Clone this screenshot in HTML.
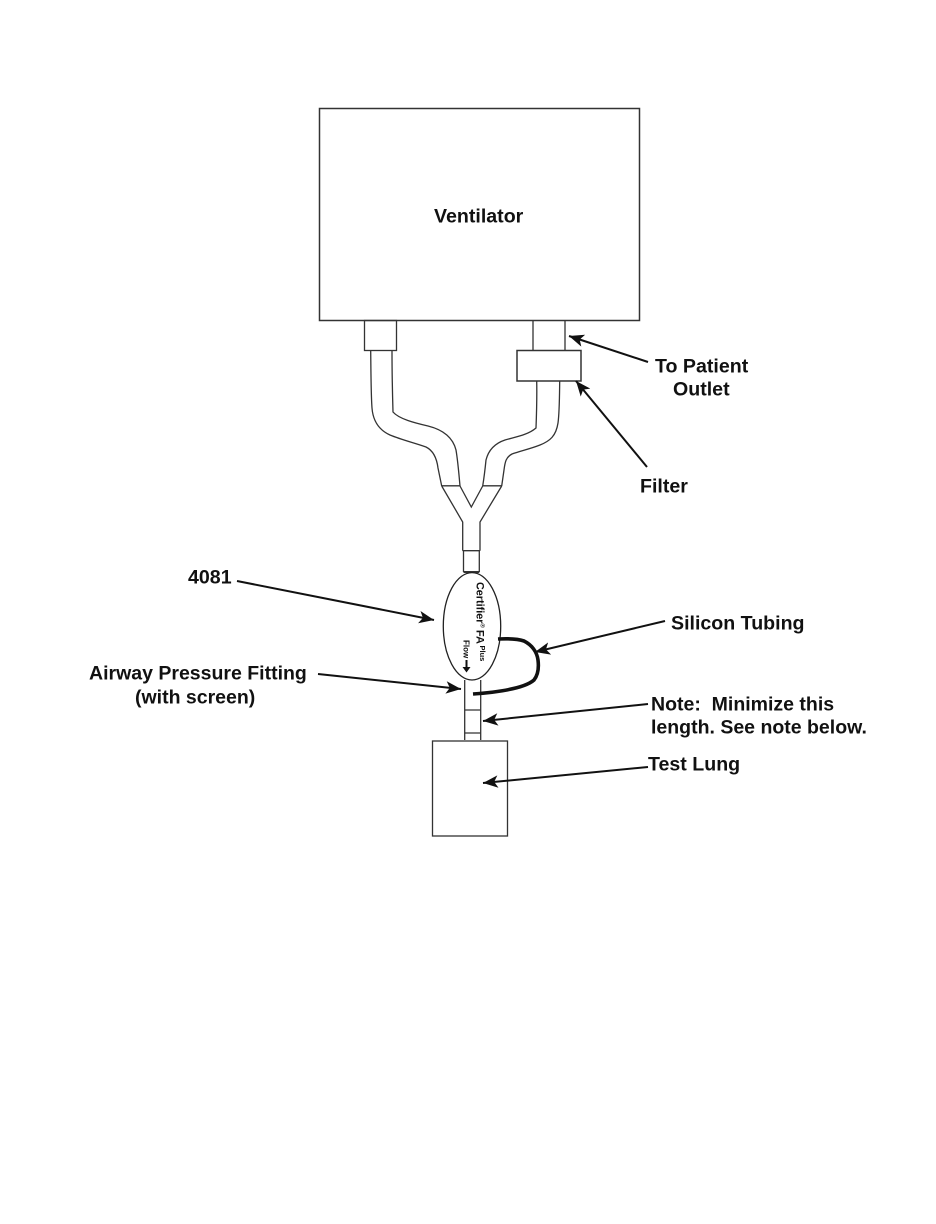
<!DOCTYPE html>
<html>
<head>
<meta charset="utf-8">
<style>
html,body{margin:0;padding:0;background:#fff}
svg{display:block}
text{font-family:"Liberation Sans",Arial,sans-serif;font-weight:bold;fill:#111}
</style>
</head>
<body>
<svg width="936" height="1224" viewBox="0 0 936 1224" xmlns="http://www.w3.org/2000/svg">
<defs>
<marker id="a" markerUnits="userSpaceOnUse" markerWidth="15" markerHeight="13" refX="12" refY="5" orient="auto" viewBox="0 0 12 10"><path d="M12 5L0 0L3 5L0 10Z" fill="#111"/></marker>
</defs>
<g fill="none" stroke="#333" stroke-width="1.3">
<rect x="319.5" y="108.5" width="320" height="212" stroke-width="1.5"/>
<rect x="364.5" y="320.5" width="32" height="30"/>
<path d="M533 320.5V350.5M565 320.5V350.5"/>
<rect x="517" y="350.5" width="64" height="30.5" stroke-width="1.5"/>
<path d="M370.7 351C371 375 371 395 372 408C373 421 379 430 390 435C402 440 415 443 426 447C434 451 437 460 438 468L441.7 486"/>
<path d="M392 351C392 375 392.5 395 393 412C399 419 415 423 428 426C444 430 453 438 456 450C458 462 459 475 460 486"/>
<path d="M536.7 381C537 395 536.5 415 536 428C528 435 515 437 505 440C493 444 488 452 486 460C485 470 484 478 482.7 486"/>
<path d="M559.7 381C559.5 395 559.5 412 558 423C556 436 550 441 540 445C530 449 520 451 512 454C506 457 505 462 504 470L501.7 486"/>
<path d="M441.7 485.8H460M482.7 485.8H501.7"/>
<path d="M441.7 486L462.7 522V550.7M460 486L471.3 507L482.7 486M501.7 486L480 522V550.7M462.7 550.7H480"/>
<path d="M463.5 550.7V572M479.3 550.7V572"/>
<path d="M463.5 572H479.3" stroke-width="2"/>
<ellipse cx="472" cy="626.3" rx="28.7" ry="53.7" stroke="#222"/>
<path d="M464.7 680V740M480.7 680V740M464.7 710H480.7M464.7 733H480.7"/>
<rect x="432.5" y="741" width="75" height="95"/>
</g>
<path d="M498 639C508 638.5 517 638.5 524 641C532 645 537 652 538 660C539 668 538 675 534 680C525 688 500 692 473 694" fill="none" stroke="#111" stroke-width="3.6"/>
<g fill="none" stroke="#111" stroke-width="2">
<path d="M648 362L569 336" marker-end="url(#a)"/>
<path d="M647 467L576 381" marker-end="url(#a)"/>
<path d="M237 581L434 620" marker-end="url(#a)"/>
<path d="M665 621L535 652" marker-end="url(#a)"/>
<path d="M318 674L461 689" marker-end="url(#a)"/>
<path d="M648 704L483 721" marker-end="url(#a)"/>
<path d="M648 767L483 783" marker-end="url(#a)"/>
</g>
<text x="434" y="222.5" font-size="19.6">Ventilator</text>
<text x="655" y="372.5" font-size="19.6">To Patient</text>
<text x="673" y="395.5" font-size="19.6">Outlet</text>
<text x="640" y="492.5" font-size="19.6">Filter</text>
<text x="188" y="583.5" font-size="19.6">4081</text>
<text x="671" y="629.5" font-size="19.6">Silicon Tubing</text>
<text x="89" y="679.5" font-size="19.5">Airway Pressure Fitting</text>
<text x="135" y="703.5" font-size="19.5">(with screen)</text>
<text x="651" y="710.5" font-size="19.5" xml:space="preserve">Note:  Minimize this</text>
<text x="651" y="733.5" font-size="19.5">length. See note below.</text>
<text x="648" y="770.5" font-size="19.6">Test Lung</text>
<text transform="translate(476.5 582) rotate(90)" font-size="10.8">Certifier<tspan font-size="6" dy="-4">®</tspan><tspan dy="4" font-size="11" dx="2">FA</tspan></text>
<text transform="translate(480 645.5) rotate(90)" font-size="7.5">Plus</text>
<text transform="translate(463.5 640) rotate(90)" font-size="8">Flow</text>
<path d="M466.5 660V668" stroke="#111" stroke-width="2" fill="none"/>
<path d="M462.5 667H470.5L466.5 672.5Z" fill="#111"/>
</svg>
</body>
</html>
